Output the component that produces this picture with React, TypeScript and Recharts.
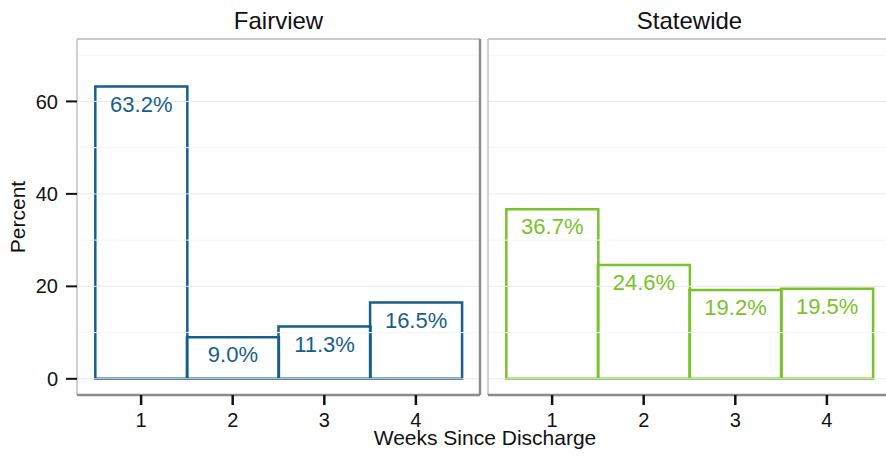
import React from 'react';
import { ComposedChart, Bar, XAxis, YAxis, ReferenceLine, LabelList, Label } from 'recharts';

const weeks = [1, 2, 3, 4];
const fairviewValues = [63.2, 9.0, 11.3, 16.5];
const statewideValues = [36.7, 24.6, 19.2, 19.5];
const yTicks = [0, 20, 40, 60];
const minorGrid = [10, 30, 50, 70];
const yDomain: [number, number] = [-3.5, 73.5];
const xDomain: [number, number] = [0.3, 4.7];
const panelTitles = ['Fairview', 'Statewide'];
const xTitle = 'Weeks Since Discharge';
const yTitle = 'Percent';

const FONT = '"Liberation Sans", Arial, Helvetica, sans-serif';
const BLUE = '#175e89';
const GREEN = '#7ac22b';
const TEXT = '#111111';
const LIGHT_BORDER = '#b8b8b8';
const DARK_BORDER = '#8c8c8c';

function makeData(values: number[]) {
  return weeks.map((w, i) => ({ week: w, value: values[i] }));
}

const makeBarLabel = (color: string) => (props: any) => {
  const { x, y, width, value } = props;
  return (
    <text
      x={Number(x) + Number(width) / 2}
      y={Number(y) + 25}
      textAnchor="middle"
      fill={color}
      style={{ fontSize: '22px', fontFamily: FONT }}
    >
      {Number(value).toFixed(1)}%
    </text>
  );
};

function renderXTick(props: any) {
  return (
    <text
      x={props.x}
      y={props.y}
      dy="0.71em"
      textAnchor="middle"
      fill={TEXT}
      style={{ fontSize: '20px', fontFamily: FONT }}
    >
      {props.payload.value}
    </text>
  );
}

function renderYTick(props: any) {
  return (
    <text
      x={props.x}
      y={props.y}
      dy="0.355em"
      textAnchor="end"
      fill={TEXT}
      style={{ fontSize: '20px', fontFamily: FONT }}
    >
      {props.payload.value}
    </text>
  );
}

const YTitle = (props: any) => {
  const vb = props.viewBox || { x: 0, y: 0, width: 0, height: 0 };
  const cx = vb.x + 25;
  const cy = vb.y + vb.height / 2;
  return (
    <text
      x={cx}
      y={cy}
      transform={`rotate(-90, ${cx}, ${cy})`}
      textAnchor="middle"
      fill={TEXT}
      style={{ fontSize: '21px', fontFamily: FONT }}
    >
      {yTitle}
    </text>
  );
};

const makeTitle = (title: string) => (props: any) => {
  const vb = props.viewBox || { x: 0, y: 0, width: 0, height: 0 };
  return (
    <text
      x={vb.x + vb.width / 2}
      y={vb.y - 10}
      textAnchor="middle"
      fill={TEXT}
      style={{ fontSize: '24px', fontFamily: FONT }}
    >
      {title}
    </text>
  );
};

type PanelProps = {
  title: string;
  values: number[];
  color: string;
  showY: boolean;
  width: number;
  margin: { top: number; right: number; bottom: number; left: number };
};

function Panel({ title, values, color, showY, width, margin }: PanelProps) {
  const data = makeData(values);
  return (
    <ComposedChart
      width={width}
      height={456}
      data={data}
      margin={margin}
      barCategoryGap={0}
      barGap={0}
      style={{ fontFamily: FONT }}
    >
      <XAxis
        dataKey="week"
        type="number"
        domain={xDomain}
        ticks={weeks}
        allowDataOverflow
        height={61}
        interval={0}
        axisLine={{ stroke: DARK_BORDER, strokeWidth: 2.5 }}
        tickLine={{ stroke: TEXT, strokeWidth: 2.5 }}
        tickSize={10}
        tickMargin={8}
        tick={renderXTick}
      />
      <YAxis
        type="number"
        domain={yDomain}
        ticks={yTicks}
        width={showY ? 77 : 0}
        tick={showY ? renderYTick : false}
        tickLine={showY ? { stroke: TEXT, strokeWidth: 2 } : false}
        tickSize={11}
        tickMargin={8}
        axisLine={false}
        allowDataOverflow
      >
        {showY ? <Label content={YTitle} position="insideLeft" /> : null}
      </YAxis>
      {minorGrid.map((v) => (
        <ReferenceLine key={'m' + v} y={v} stroke="#f4f4f4" strokeWidth={1} />
      ))}
      {yTicks.map((v) => (
        <ReferenceLine key={'M' + v} y={v} stroke="#e8e8e8" strokeWidth={1} />
      ))}
      {/* panel frame: light top and left, dark right; bottom is the x axis line */}
      <ReferenceLine x={xDomain[0]} stroke={LIGHT_BORDER} strokeWidth={1.3} ifOverflow="visible" />
      <ReferenceLine y={yDomain[1]} stroke={LIGHT_BORDER} strokeWidth={1.3} ifOverflow="visible">
        <Label content={makeTitle(title)} position="top" />
      </ReferenceLine>
      <ReferenceLine x={xDomain[1]} stroke={DARK_BORDER} strokeWidth={2.5} ifOverflow="visible" />
      <Bar dataKey="value" fill="none" stroke={color} strokeWidth={2.5} isAnimationActive={false}>
        <LabelList dataKey="value" content={makeBarLabel(color)} />
      </Bar>
    </ComposedChart>
  );
}

export default function App() {
  return (
    <div
      style={{
        position: 'absolute',
        left: 0,
        top: 0,
        width: 886,
        height: 456,
        overflow: 'hidden',
        background: '#ffffff',
        fontFamily: FONT,
      }}
    >
      <div style={{ position: 'absolute', left: 0, top: 0 }}>
        <Panel
          title={panelTitles[0]}
          values={fairviewValues}
          color={BLUE}
          showY
          width={484}
          margin={{ top: 39, right: 4, bottom: 0, left: 0 }}
        />
      </div>
      <div style={{ position: 'absolute', left: 484, top: 0 }}>
        <Panel
          title={panelTitles[1]}
          values={statewideValues}
          color={GREEN}
          showY={false}
          width={410}
          margin={{ top: 39, right: 3, bottom: 0, left: 4 }}
        />
      </div>
      <div
        style={{
          position: 'absolute',
          left: 285,
          top: 427,
          width: 400,
          textAlign: 'center',
          fontSize: 21,
          lineHeight: '21px',
          color: TEXT,
          whiteSpace: 'nowrap',
        }}
      >
        {xTitle}
      </div>
    </div>
  );
}
